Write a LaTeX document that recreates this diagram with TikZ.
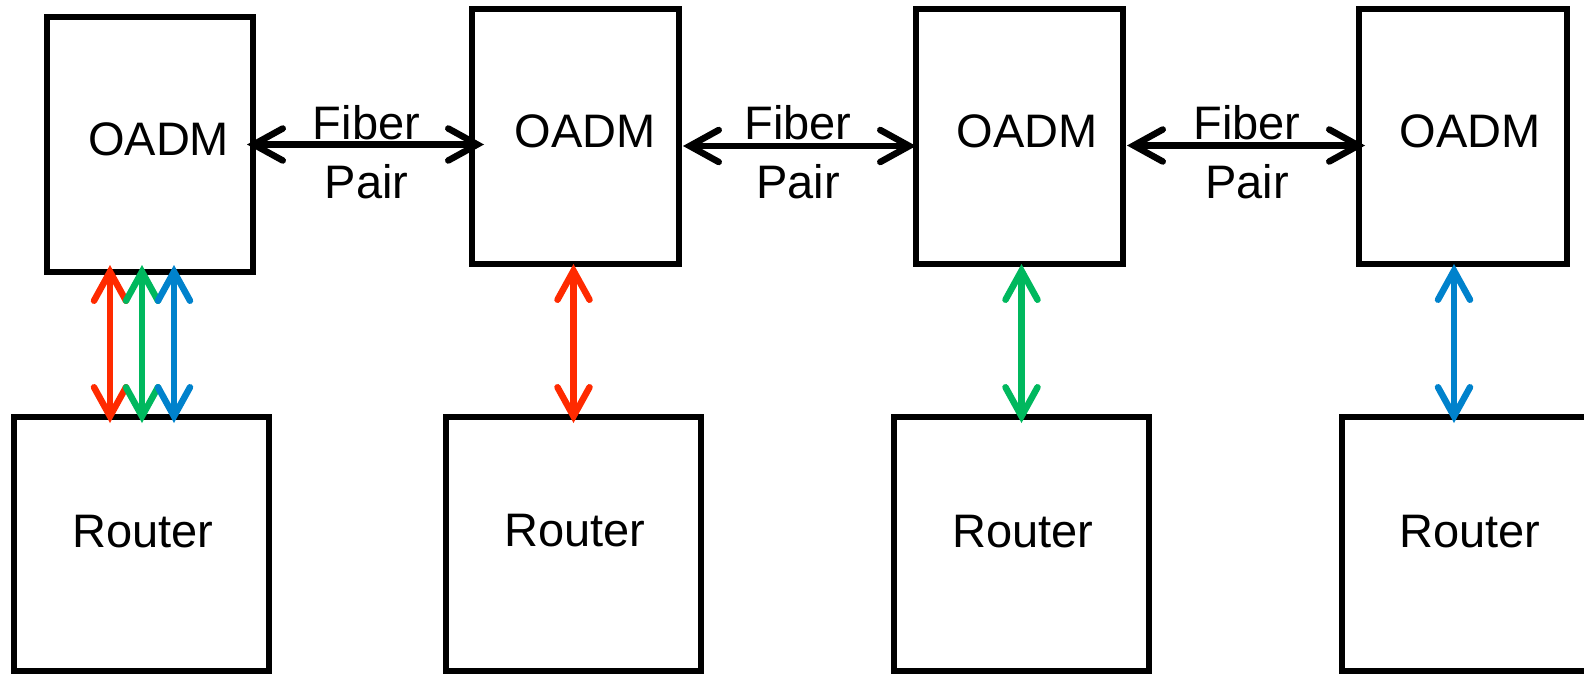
\documentclass[tikz,border=0pt]{standalone}
\usepackage{fontspec}
\setmainfont{Liberation Sans}
\usetikzlibrary{arrows.meta}
\definecolor{cred}{HTML}{FF2A00}
\definecolor{cgreen}{HTML}{00B85E}
\definecolor{cblue}{HTML}{0082CC}
\begin{document}
\begin{tikzpicture}[x=1pt,y=-1pt,
  box/.style={draw, line width=6pt, inner sep=0pt, outer sep=0pt, minimum height=255pt},
  lbl/.style={font=\fontsize{47}{59}\selectfont, inner sep=0pt, anchor=base},
  tipb/.tip={Straight Barb[length=29pt,width=32pt,line cap=round]},
  fib/.style={line width=6.5pt, tipb-tipb},
  wl/.style={line width=6.5pt, tipb-tipb, shorten >=-6pt}
]
\useasboundingbox (0,0) rectangle (1584,674);
\begin{scope}
\clip (0,0) rectangle (1584,674);
% OADM boxes
\node[box, minimum width=206pt] (o1) at (150,144.5) {};
\node[box, minimum width=207pt] (o2) at (575.5,136.5) {};
\node[box, minimum width=207pt] (o3) at (1019.5,136.5) {};
\node[box, minimum width=208pt] (o4) at (1463,136.5) {};
% Router boxes
\node[box, minimum width=255pt, minimum height=254pt] (r1) at (141.5,544) {};
\node[box, minimum width=255pt, minimum height=254pt] (r2) at (573.5,544) {};
\node[box, minimum width=255pt, minimum height=254pt] (r3) at (1021.5,544) {};
\node[box, minimum width=255pt, minimum height=254pt] (r4) at (1469.5,544) {};
\end{scope}
% texts
\node[lbl] (t1) at (158.6,155.6) {OADM};
\node[lbl] (t2) at (585,147.5) {OADM};
\node[lbl] (t3) at (1027,147) {OADM};
\node[lbl] (t4) at (1470,147) {OADM};
\node[lbl] (u1) at (143,547) {Router};
\node[lbl] (u2) at (575,546) {Router};
\node[lbl] (u3) at (1023,547) {Router};
\node[lbl] (u4) at (1470,547) {Router};
\node[lbl, align=center] (f1) at (366.5,198) {Fiber\\Pair};
\node[lbl, align=center] (f2) at (798,198) {Fiber\\Pair};
\node[lbl, align=center] (f3) at (1247,198) {Fiber\\Pair};
% fiber links
\draw[fib] ([xshift=-6pt]o1.east) -- ([xshift=12pt]o1.east -| o2.west);
\draw[fib] ([xshift=4pt,yshift=-9.5pt]o2.east) -- ([yshift=-9.5pt]o2.east -| o3.west);
\draw[fib] ([xshift=4pt,yshift=-9pt]o3.east) -- ([xshift=6pt,yshift=-9pt]o3.east -| o4.west);
% wavelength links
\draw[wl, cred] ([xshift=-40pt,yshift=7pt]o1.south) -- ([xshift=-40pt]o1.south |- r1.north);
\draw[wl, cgreen] ([xshift=-8pt,yshift=7pt]o1.south) -- ([xshift=-8pt]o1.south |- r1.north);
\draw[wl, cblue] ([xshift=24pt,yshift=7pt]o1.south) -- ([xshift=24pt]o1.south |- r1.north);
\draw[wl, cred] (r2.north |- o2.south) -- (r2.north);
\draw[wl, cgreen] (r3.north |- o3.south) -- (r3.north);
\draw[wl, cblue] ([xshift=-9pt]o4.south) -- ([xshift=-9pt]o4.south |- r4.north);
\end{tikzpicture}
\end{document}
